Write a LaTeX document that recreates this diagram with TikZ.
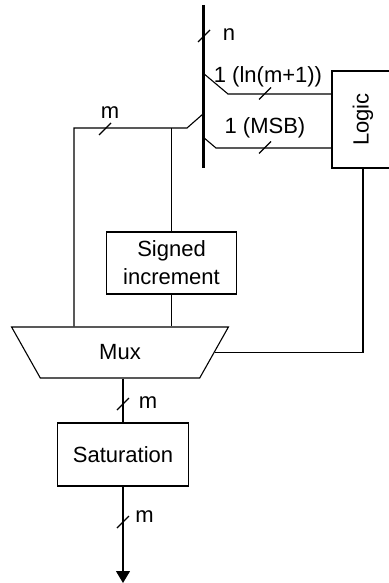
\documentclass[tikz,border=0pt]{standalone}
\usepackage{fontspec}
\setmainfont{Liberation Sans}
\usetikzlibrary{arrows.meta,positioning,shapes.geometric}

\tikzset{
    block/.style={draw, line width=1.1pt, align=center, inner sep=0pt},
    slash/.pic={\draw[line width=1.1pt] (-6,6) -- (6,-6);},
}

\begin{document}
\begin{tikzpicture}[x=1pt, y=-1pt, line width=1.1pt, font=\fontsize{22}{28}\selectfont]
    \useasboundingbox (0,0) rectangle (388,583);

    % Blocks
    \node[block, minimum width=62, minimum height=97] (logic) at (363,119.5) {};
    \node[rotate=90] (logictext) at (logic.center) {Logic};
    \node[block, minimum width=130, minimum height=62] (inc) at (171.5,263) {Signed\\increment};
    \node[block, trapezium, shape border rotate=180, trapezium stretches=true,
          trapezium left angle=64, trapezium right angle=64,
          minimum width=218, minimum height=51] (mux) at (120,352.5) {Mux};
    \node[block, minimum width=131, minimum height=63] (sat) at (123,454.5) {Saturation};

    % Bus
    \coordinate (bustop) at (203,5);
    \coordinate (busbot) at (203,168);
    \draw[line width=3pt] (bustop) -- (busbot);
    \coordinate (tapa) at (203,73);
    \coordinate (tapb) at (203,114);
    \coordinate (tapc) at (203,137);

    % Branches
    \draw (tapa) -- ++(25,21) coordinate (ka) -- (ka -| logic.west);
    \draw (tapc) -- ++(13,11) coordinate (kc) -- (kc -| logic.west);
    \draw (tapb) -- ++(-16,14) coordinate (kb) -- (74,128) coordinate (kd) -- (kd |- mux.north);
    \draw (inc.north |- kb) -- (inc.north);
    \draw (inc.south) -- (inc.south |- mux.north);
    \draw (logic.south) |- (mux.east);

    % Output
    \coordinate (out) at (123,583);
    \draw (sat.north |- mux.south) -- (sat.north);
    \draw[-{Triangle[width=14pt, length=12pt]}] (sat.south) -- (out);

    % Widths
    \pic at (204,36) {slash};
    \pic at (265,93.5) {slash};
    \pic at (265,147.5) {slash};
    \pic at (105,129) {slash};
    \pic at (123,404) {slash};
    \pic at (123,522) {slash};
    \node (lbln) at (229,35) {n};
    \node (lbla) at (268,77) {1 (ln(m+1))};
    \node (lblc) at (265,128) {1 (MSB)};
    \node (lblb) at (110,113) {m};
    \node (lbld) at (148,403) {m};
    \node (lble) at (144.5,517) {m};
\end{tikzpicture}
\end{document}
